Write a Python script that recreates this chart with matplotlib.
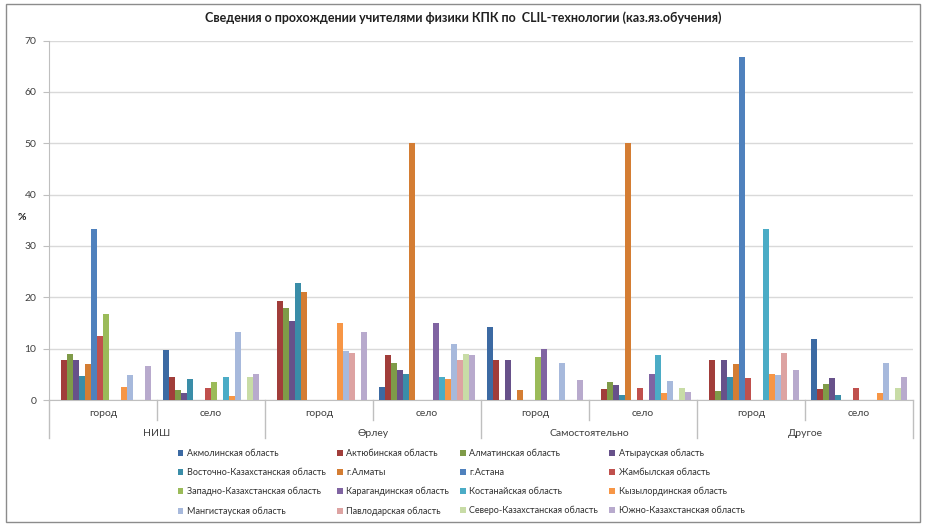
import matplotlib
matplotlib.use("Agg")
import matplotlib.pyplot as plt
from matplotlib.patches import Rectangle, Patch
from matplotlib.transforms import blended_transform_factory
import numpy as np

plt.rcParams['font.family'] = ['Lato', 'Roboto', 'DejaVu Sans']

title = "Сведения о прохождении учителями физики КПК по  CLIL-технологии (каз.яз.обучения)"
major_groups = ["НИШ", "Өрлеу", "Самостоятельно", "Другое"]
sub_groups = ["город", "село"]

series_names = [
    "Акмолинская область", "Актюбинская область", "Алматинская область", "Атырауская область",
    "Восточно-Казахстанская область", "г.Алматы", "г.Астана", "Жамбылская область",
    "Западно-Казахстанская область", "Карагандинская область", "Костанайская область", "Кызылординская область",
    "Мангистауская область", "Павлодарская область", "Северо-Казахстанская область", "Южно-Казахстанская область",
]
colors = [
    "#3C6AA3", "#A13D3A", "#7F9B48", "#67518A", "#3A8DA8", "#D47D33",
    "#4F81BD", "#C0504D", "#9BBB59", "#8064A2", "#4BACC6", "#F79646",
    "#A7B9DC", "#DDA3A2", "#C8DCA6", "#B8AACD",
]

# values per series across 8 categories:
# НИШ город, НИШ село, Өрлеу город, Өрлеу село, Самост. город, Самост. село, Другое город, Другое село
akmola      = [0.0, 9.7, 0.0, 2.5, 14.3, 0.0, 0.0, 11.9]
aktobe      = [7.7, 4.4, 19.2, 8.8, 7.7, 2.2, 7.7, 2.2]
almaty_obl  = [9.0, 1.9, 17.9, 7.3, 0.0, 3.6, 1.8, 3.1]
atyrau      = [7.7, 1.4, 15.4, 5.8, 7.7, 2.9, 7.7, 4.3]
vko         = [4.6, 4.1, 22.8, 5.0, 0.0, 1.0, 4.5, 1.0]
almaty_city = [7.1, 0.0, 21.1, 50.0, 1.9, 50.0, 7.0, 0.0]
astana      = [33.3, 0.0, 0.0, 0.0, 0.0, 0.0, 66.7, 0.0]
zhambyl     = [12.5, 2.4, 0.0, 0.0, 0.0, 2.4, 4.2, 2.4]
zko         = [16.7, 3.6, 0.0, 0.0, 8.4, 0.0, 0.0, 0.0]
karaganda   = [0.0, 0.0, 0.0, 15.0, 10.0, 5.0, 0.0, 0.0]
kostanay    = [0.0, 4.4, 0.0, 4.4, 0.0, 8.8, 33.3, 0.0]
kyzylorda   = [2.5, 0.7, 15.0, 4.1, 0.0, 1.4, 5.0, 1.3]
mangistau   = [4.9, 13.3, 9.6, 10.9, 7.3, 3.7, 4.8, 7.3]
pavlodar    = [0.0, 0.0, 9.2, 7.7, 0.0, 0.0, 9.1, 0.0]
sko         = [0.0, 4.5, 0.0, 9.0, 0.0, 2.3, 0.0, 2.3]
yuko        = [6.7, 5.1, 13.3, 8.7, 3.8, 1.5, 5.9, 4.4]

series_values = [akmola, aktobe, almaty_obl, atyrau, vko, almaty_city, astana, zhambyl,
                 zko, karaganda, kostanay, kyzylorda, mangistau, pavlodar, sko, yuko]

W, H = 925, 529
fig = plt.figure(figsize=(W / 100, H / 100), dpi=100)
fig.patch.set_facecolor("white")

# outer frame
fig.patches.append(Rectangle((6 / W, 1 - 522 / H), (920 - 6) / W, (522 - 4) / H,
                             transform=fig.transFigure, fill=False, edgecolor="#8C8C8C", linewidth=1.0))

ax = fig.add_axes([49 / W, 1 - 400 / H, (913 - 49) / W, (400 - 40.5) / H])

n_series = len(series_values)
n_cat = 8
bw = 1.0 / (n_series + 2)
x = np.arange(n_cat)
handles = []
for i, (vals, c) in enumerate(zip(series_values, colors)):
    ax.bar(x + (i - (n_series - 1) / 2) * bw, vals, width=bw, color=c, linewidth=0, zorder=3)
    handles.append(Patch(facecolor=c, edgecolor="none"))

ax.set_xlim(-0.5, n_cat - 0.5)
ax.set_ylim(0, 70)
ax.set_yticks(np.arange(0, 71, 10))
ax.yaxis.grid(True, color="#D9D9D9", linewidth=1.0, zorder=0)
ax.set_axisbelow(True)
for s in ["top", "right"]:
    ax.spines[s].set_visible(False)
ax.spines["left"].set_color("#BFBFBF")
ax.spines["bottom"].set_color("#BFBFBF")
ax.tick_params(axis="y", length=4, color="#BFBFBF", labelsize=7.5, labelcolor="#404040", pad=5)
ax.set_xticks([])

# two-level category axis
axh = 400 - 40.5
trans = blended_transform_factory(ax.transData, ax.transAxes)
def ypx(p):
    return (400 - p) / axh

for j in range(n_cat):
    ax.text(j, ypx(414), sub_groups[j % 2], transform=trans, ha="center", va="center",
            fontsize=7.5, color="#404040")
for k, name in enumerate(major_groups):
    ax.text(2 * k + 0.5, ypx(433), name, transform=trans, ha="center", va="center",
            fontsize=7.5, color="#404040")
for j in range(n_cat + 1):
    xs = j - 0.5
    bottom = 438 if j % 2 == 0 else 420
    ax.plot([xs, xs], [0, ypx(bottom)], transform=trans, color="#BFBFBF", linewidth=1.0, clip_on=False)

fig.text(463 / W, 1 - 18 / H, title, ha="center", va="center", fontsize=9, fontweight="bold", color="#202020")
fig.text(22 / W, 1 - 218 / H, "%", ha="center", va="center", fontsize=7.5, fontweight="bold", color="#202020")

# legend: 4 columns, row-major reading order
order = [r * 4 + c for c in range(4) for r in range(4)]
leg = fig.legend([handles[i] for i in order], [series_names[i] for i in order],
                 ncol=4, loc="upper center", bbox_to_anchor=(461 / W, 1 - 448.5 / H),
                 frameon=False, fontsize=6.5, handlelength=0.65, handleheight=0.65,
                 handletextpad=0.4, labelspacing=1.12, columnspacing=1.2,
                 borderpad=0, borderaxespad=0)
for t in leg.get_texts():
    t.set_color("#303030")

fig.savefig("out.png", dpi=100)
